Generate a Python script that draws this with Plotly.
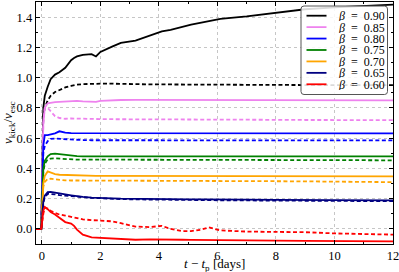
import plotly.graph_objects as go

# time grid [days] shared by all curves
T = [-0.2, -0.02, 0.05, 0.1, 0.2, 0.3, 0.45, 0.6, 0.8, 1.0, 1.1, 1.2, 1.4, 1.7, 1.85,
     2.0, 2.4, 2.7, 3.2, 3.7, 4.1, 4.4, 4.8, 5.1, 5.45, 5.7, 6.1, 7.0, 8.0, 9.0, 10.0, 11.0, 12.0]

betas = ["0.90", "0.85", "0.80", "0.75", "0.70", "0.65", "0.60"]
colors = ["#000000", "#EE82EE", "#0000FF", "#008000", "#FFA500", "#000080", "#FF0000"]

solid_090 = [0.0, 0.0, 0.80, 0.88, 0.94, 0.99, 1.02, 1.035, 1.065, 1.115, 1.13, 1.14, 1.15, 1.155, 1.14,
             1.17, 1.205, 1.23, 1.245, 1.28, 1.305, 1.316, 1.338, 1.35, 1.364, 1.375, 1.388, 1.405, 1.43,
             1.452, 1.465, 1.475, 1.482]
dashed_090 = [0.0, 0.0, 0.75, 0.80, 0.85, 0.88, 0.905, 0.92, 0.935, 0.945, 0.95, 0.953, 0.957, 0.96, 0.96,
              0.96, 0.96, 0.958, 0.956, 0.955, 0.955, 0.955, 0.954, 0.954, 0.953, 0.953, 0.953, 0.952, 0.951,
              0.951, 0.95, 0.95, 0.95]
solid_085 = [0.0, 0.0, 0.70, 0.80, 0.83, 0.835, 0.838, 0.84, 0.842, 0.845, 0.846, 0.846, 0.843, 0.838, 0.84,
             0.846, 0.85, 0.852, 0.853, 0.853, 0.853, 0.852, 0.852, 0.852, 0.852, 0.851, 0.851, 0.851, 0.85,
             0.85, 0.85, 0.85, 0.85]
dashed_085 = [0.0, 0.0, 0.70, 0.80, 0.80, 0.775, 0.745, 0.733, 0.728, 0.73, 0.73, 0.73, 0.728, 0.726, 0.726,
              0.726, 0.725, 0.725, 0.724, 0.723, 0.723, 0.723, 0.722, 0.722, 0.722, 0.722, 0.722, 0.722, 0.721,
              0.72, 0.72, 0.719, 0.719]
solid_080 = [0.0, 0.0, 0.55, 0.62, 0.62, 0.625, 0.632, 0.645, 0.636, 0.633, 0.633, 0.633, 0.633, 0.633, 0.633,
             0.633, 0.633, 0.633, 0.633, 0.633, 0.633, 0.633, 0.633, 0.633, 0.633, 0.633, 0.633, 0.633, 0.633,
             0.632, 0.632, 0.632, 0.632]
dashed_080 = [0.0, 0.0, 0.50, 0.55, 0.58, 0.595, 0.597, 0.595, 0.592, 0.59, 0.589, 0.588, 0.587, 0.586, 0.586,
              0.586, 0.586, 0.586, 0.586, 0.586, 0.586, 0.586, 0.586, 0.586, 0.586, 0.586, 0.586, 0.586, 0.586,
              0.586, 0.585, 0.585, 0.585]
solid_075 = [0.0, 0.0, 0.40, 0.45, 0.48, 0.495, 0.497, 0.493, 0.487, 0.483, 0.482, 0.481, 0.48, 0.48, 0.48,
             0.48, 0.48, 0.479, 0.479, 0.479, 0.479, 0.479, 0.479, 0.479, 0.479, 0.479, 0.479, 0.479, 0.479,
             0.479, 0.479, 0.479, 0.479]
dashed_075 = [0.0, 0.0, 0.38, 0.43, 0.46, 0.465, 0.466, 0.464, 0.461, 0.459, 0.459, 0.458, 0.458, 0.458, 0.458,
              0.458, 0.458, 0.458, 0.457, 0.457, 0.457, 0.457, 0.457, 0.457, 0.457, 0.457, 0.457, 0.456, 0.455,
              0.455, 0.454, 0.454, 0.453]
solid_070 = [0.0, 0.0, 0.30, 0.35, 0.38, 0.372, 0.362, 0.358, 0.356, 0.354, 0.353, 0.352, 0.351, 0.35, 0.35,
             0.35, 0.35, 0.349, 0.349, 0.349, 0.349, 0.349, 0.349, 0.349, 0.349, 0.349, 0.349, 0.348, 0.348,
             0.348, 0.347, 0.347, 0.347]
dashed_070 = [0.0, 0.0, 0.28, 0.31, 0.33, 0.332, 0.328, 0.324, 0.321, 0.32, 0.32, 0.32, 0.32, 0.32, 0.32,
              0.32, 0.32, 0.32, 0.32, 0.319, 0.319, 0.319, 0.319, 0.319, 0.319, 0.318, 0.318, 0.317, 0.315,
              0.314, 0.312, 0.311, 0.309]
solid_065 = [0.0, 0.0, 0.18, 0.22, 0.243, 0.245, 0.24, 0.233, 0.228, 0.222, 0.219, 0.216, 0.211, 0.207, 0.205,
             0.204, 0.202, 0.2, 0.198, 0.197, 0.196, 0.196, 0.195, 0.195, 0.195, 0.194, 0.194, 0.193, 0.192,
             0.191, 0.19, 0.189, 0.188]
dashed_065 = [0.0, 0.0, 0.17, 0.21, 0.232, 0.232, 0.228, 0.223, 0.219, 0.215, 0.213, 0.212, 0.209, 0.205, 0.204,
              0.202, 0.199, 0.197, 0.195, 0.193, 0.192, 0.192, 0.191, 0.19, 0.19, 0.19, 0.189, 0.188, 0.187,
              0.186, 0.185, 0.184, 0.183]
solid_060 = [0.0, 0.0, 0.12, 0.145, 0.13, 0.112, 0.095, 0.075, 0.045, 0.035, 0.02, -0.005, -0.038, -0.056, -0.058,
             -0.06, -0.066, -0.068, -0.072, -0.07, -0.069, -0.07, -0.072, -0.073, -0.073, -0.074, -0.075, -0.076,
             -0.078, -0.079, -0.08, -0.081, -0.082]
dashed_060 = [0.0, 0.0, 0.10, 0.14, 0.135, 0.12, 0.105, 0.095, 0.088, 0.08, 0.075, 0.07, 0.063, 0.058, 0.056,
              0.055, 0.05, 0.038, 0.015, 0.012, 0.02, 0.0, -0.015, -0.015, -0.005, 0.01, -0.01, -0.018, -0.02,
              -0.022, -0.03, -0.035, -0.038]

solid_series = [solid_090, solid_085, solid_080, solid_075, solid_070, solid_065, solid_060]
dashed_series = [dashed_090, dashed_085, dashed_080, dashed_075, dashed_070, dashed_065, dashed_060]

W, H = 399, 272
L, R, TOP, BOT = 36, 393, 2, 244
FONT = "Liberation Serif"


def px(x):
    return (x - L) / (R - L)


def py(y):
    return (BOT - y) / (BOT - TOP)


fig = go.Figure()
for b, c, s, d in zip(betas, colors, solid_series, dashed_series):
    fig.add_trace(go.Scatter(x=T, y=d, mode="lines", line=dict(color=c, width=1.8, dash="4px,2.5px"),
                             showlegend=False, hoverinfo="skip"))
    fig.add_trace(go.Scatter(x=T, y=s, mode="lines", line=dict(color=c, width=1.8),
                             name="β = " + b, showlegend=False))

axis_common = dict(
    showline=True, linecolor="black", linewidth=1.3, mirror="allticks",
    ticks="inside", ticklen=4, tickwidth=1, tickcolor="black",
    showgrid=True, gridcolor="#b8b8b8", griddash="dot", gridwidth=0.8,
    zeroline=False, automargin=False, ticklabeloverflow="allow",
    tickfont=dict(family=FONT, size=12.5, color="black"),
)
fig.update_xaxes(range=[-0.2, 12], tick0=0, dtick=2,
                 minor=dict(ticks="inside", dtick=1, ticklen=2, tickcolor="black", showgrid=False),
                 **axis_common)
fig.update_yaxes(range=[-0.1, 1.5], tick0=0, dtick=0.2, tickformat=".1f",
                 minor=dict(ticks="inside", dtick=0.1, ticklen=2, tickcolor="black", showgrid=False),
                 **axis_common)

# legend box (rounded) drawn manually to match compact row spacing
bx0, bx1, by0, by1, r = 301, 387.5, 6, 94.5, 3
path = (f"M {px(bx0 + r)} {py(by0)} L {px(bx1 - r)} {py(by0)} Q {px(bx1)} {py(by0)} {px(bx1)} {py(by0 + r)} "
        f"L {px(bx1)} {py(by1 - r)} Q {px(bx1)} {py(by1)} {px(bx1 - r)} {py(by1)} "
        f"L {px(bx0 + r)} {py(by1)} Q {px(bx0)} {py(by1)} {px(bx0)} {py(by1 - r)} "
        f"L {px(bx0)} {py(by0 + r)} Q {px(bx0)} {py(by0)} {px(bx0 + r)} {py(by0)} Z")
shapes = [dict(type="path", xref="paper", yref="paper", path=path,
               fillcolor="rgba(255,255,255,0.85)", line=dict(color="#555555", width=1), layer="above")]
annotations = []
for i, (b, c) in enumerate(zip(betas, colors)):
    yc = 15.7 + 11.43 * i
    shapes.append(dict(type="line", xref="paper", yref="paper", x0=px(306.5), x1=px(326.5),
                       y0=py(yc), y1=py(yc), line=dict(color=c, width=1.8), layer="above"))
    annotations.append(dict(xref="paper", yref="paper", x=px(336), y=py(yc), xanchor="left", yanchor="middle",
                            text="<i>β</i>\u00a0\u00a0=\u00a0\u00a0" + b, showarrow=False, height=11,
                            font=dict(family=FONT, size=12, color="black")))

annotations.append(dict(xref="paper", yref="paper", x=px(8), y=0.5, textangle=-90,
                        xanchor="center", yanchor="middle", showarrow=False,
                        text="<i>v</i><sub>kick</sub>/<i>v</i><sub>esc</sub>",
                        font=dict(family=FONT, size=13, color="black")))
annotations.append(dict(xref="paper", yref="paper", x=0.5, y=py(264), xanchor="center", yanchor="middle",
                        showarrow=False, text="<i>t</i> − <i>t</i><sub>p</sub> [days]",
                        font=dict(family=FONT, size=13, color="black")))

fig.update_layout(width=W, height=H, margin=dict(l=L, r=W - R, t=TOP, b=H - BOT, autoexpand=False),
                  paper_bgcolor="white", plot_bgcolor="white",
                  shapes=shapes, annotations=annotations, showlegend=False)

fig.write_html("out.html", config={"displayModeBar": False, "staticPlot": True},
               post_script="document.body.style.margin='0';document.body.style.overflow='hidden';")
